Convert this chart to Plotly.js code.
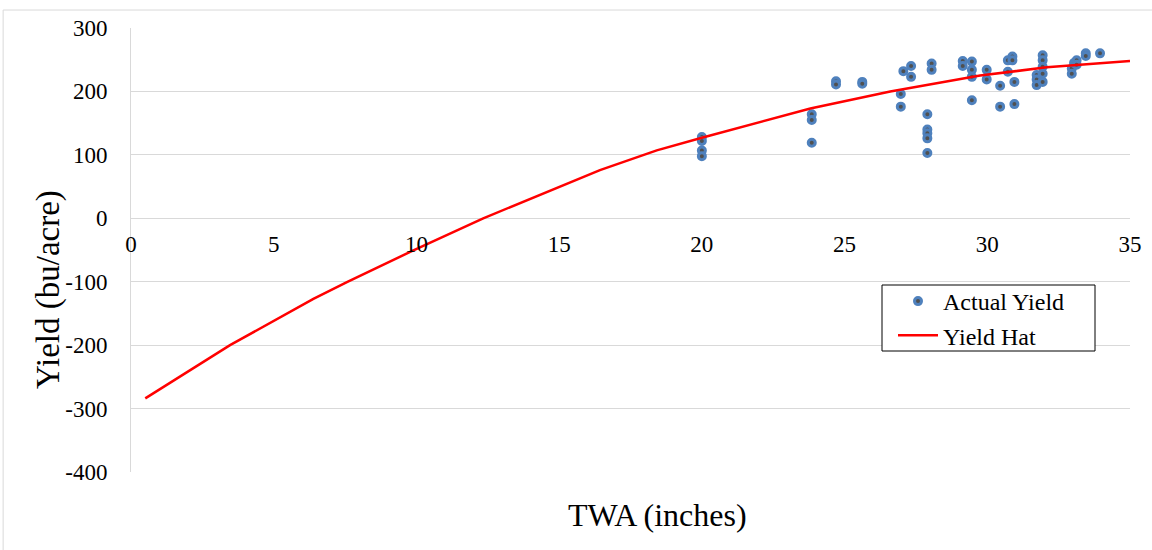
<!DOCTYPE html>
<html>
<head>
<meta charset="utf-8">
<script src="https://cdn.plot.ly/plotly-3.0.1.min.js"></script>
<style>
html,body{margin:0;padding:0;background:#fff;}
#chart{width:1152px;height:550px;}
</style>
</head>
<body>
<div id="chart"></div>
<script>
// Actual Yield observations (TWA inches, yield bu/acre)
const actualTWA = [
  20, 20, 20, 20,
  23.85, 23.85, 23.85,
  24.7, 24.7,
  25.62, 25.62,
  26.97, 26.97,
  27.06,
  27.33, 27.33,
  27.9, 27.9, 27.9, 27.9, 27.9,
  28.05, 28.05,
  29.14, 29.14,
  29.46, 29.46, 29.46, 29.46,
  29.98, 29.98,
  30.45, 30.45,
  30.72, 30.72,
  30.88, 30.88,
  30.95, 30.95,
  31.73, 31.73, 31.73,
  31.94, 31.94, 31.94, 31.94, 31.94,
  32.96, 32.96,
  33.04,
  33.13, 33.13,
  33.45, 33.45,
  33.95
];
const actualYield = [
  128, 122, 107, 98,
  164, 155, 119,
  216, 211,
  215, 212,
  196, 176,
  232,
  240, 223,
  164, 140, 134, 126, 103,
  244, 234,
  248, 240,
  247, 234, 223, 186,
  234, 219,
  209, 176,
  249, 231,
  255, 249,
  215, 180,
  226, 219, 210,
  257, 249, 239, 228, 215,
  236, 228,
  245,
  249, 242,
  260, 256,
  260
];
// Yield Hat (fitted line)
const hatTWA   = [0.5, 3.47, 6.39, 7.6, 9.78, 12.34, 16.43, 18.42, 20, 23.8, 26.6, 29.75, 32.08, 35];
const hatYield = [-284, -200, -127, -100, -53, 0, 76, 107, 127, 173, 200, 225, 238, 248];
// Axis ticks
const xTicks = [0, 5, 10, 15, 20, 25, 30, 35];
const yTicks = [300, 200, 100, 0, -100, -200, -300, -400];

const font = "Liberation Serif";

const traces = [
  {
    x: actualTWA, y: actualYield, type: 'scatter', mode: 'markers', name: 'Actual Yield',
    marker: {size: 7, color: '#505050', line: {color: '#4f81bd', width: 3}},
    cliponaxis: false
  },
  {
    x: hatTWA, y: hatYield, type: 'scatter', mode: 'lines', name: 'Yield Hat',
    line: {color: '#ff0000', width: 2.5}
  }
];

const px = v => (v - 131) / 999;
const py = v => (472 - v) / 444;

const layout = {
  width: 1152, height: 550,
  margin: {l: 131, r: 22, t: 28, b: 78},
  paper_bgcolor: '#ffffff', plot_bgcolor: '#ffffff',
  font: {family: font, size: 22, color: '#000'},
  showlegend: true,
  legend: {
    x: px(893), y: py(279), xanchor: 'left', yanchor: 'top',
    borderwidth: 0, bgcolor: 'rgba(0,0,0,0)',
    font: {family: font, size: 24, color: '#000'},
    traceorder: 'normal', itemwidth: 40, tracegroupgap: 0
  },
  xaxis: {
    range: [0, 35], tickvals: xTicks, ticktext: xTicks.map(String),
    anchor: 'free', position: 4/7,
    showgrid: false, zeroline: false, showline: false, ticks: '',
    ticklabelstandoff: 10,
    tickfont: {family: font, size: 23, color: '#000'},
    fixedrange: true
  },
  yaxis: {
    range: [-400, 300], tickvals: yTicks, ticktext: yTicks.map(String),
    showgrid: true, gridcolor: '#d9d9d9', gridwidth: 1,
    zeroline: true, zerolinecolor: '#d9d9d9', zerolinewidth: 1,
    showline: true, linecolor: '#d9d9d9', linewidth: 1, ticks: '',
    ticklabelstandoff: 18,
    tickfont: {family: font, size: 23, color: '#000'},
    fixedrange: true
  },
  annotations: [
    {text: 'TWA (inches)', xref: 'paper', yref: 'paper', x: px(657), y: py(515), xanchor: 'center', yanchor: 'middle',
     showarrow: false, font: {family: font, size: 32, color: '#000'}},
    {text: 'Yield (bu/acre)', xref: 'paper', yref: 'paper', textangle: -90,
     x: px(48), y: py(290), xanchor: 'center', yanchor: 'middle',
     showarrow: false, font: {family: font, size: 33, color: '#000'}}
  ],
  shapes: [
    {type: 'line', xref: 'paper', yref: 'paper', x0: -0.128, x1: 1.022, y0: 1.0405, y1: 1.0405, line: {color: '#d9d9d9', width: 1}},
    {type: 'line', xref: 'paper', yref: 'paper', x0: -0.128, x1: -0.128, y0: -0.18, y1: 1.0405, line: {color: '#d9d9d9', width: 1}},
    {type: 'rect', xref: 'paper', yref: 'paper', layer: 'above', x0: px(882), x1: px(1095), y0: py(351), y1: py(285),
     fillcolor: '#ffffff', line: {color: '#000000', width: 1}}
  ]
};

Plotly.newPlot('chart', traces, layout, {displayModeBar: false, staticPlot: true});
</script>
</body>
</html>
